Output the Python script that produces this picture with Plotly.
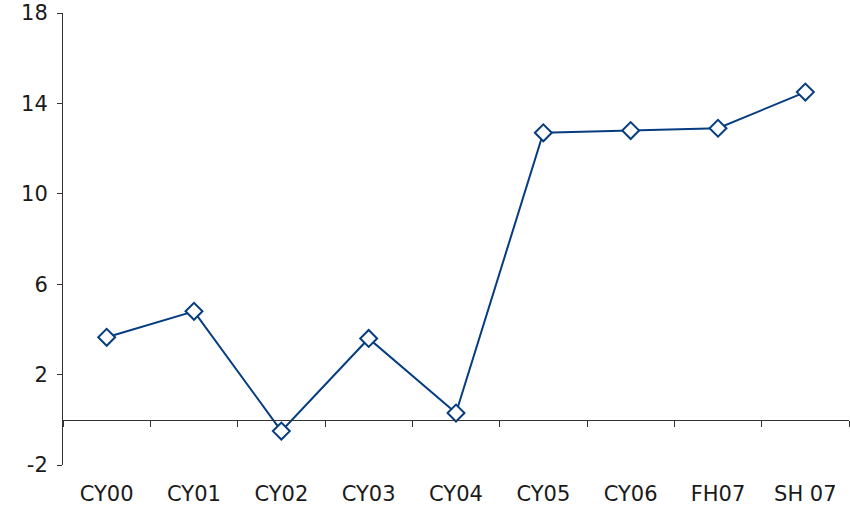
import plotly.graph_objects as go

categories = ["CY00", "CY01", "CY02", "CY03", "CY04", "CY05", "CY06", "FH07", "SH 07"]
values = [3.65, 4.8, -0.5, 3.6, 0.3, 12.7, 12.8, 12.9, 14.5]
y_ticks = [-2, 2, 6, 10, 14, 18]
y_tick_text = ["-2", "2", "6", "10", "14", "18"]

blue = "#053d80"
axis_col = "#333333"
font = dict(family="DejaVu Sans", size=21, color="#1a1a1a")

xs = list(range(len(categories)))
bounds = [i - 0.5 for i in range(len(categories) + 1)]

fig = go.Figure()
fig.add_trace(go.Scatter(
    x=xs, y=values, mode="lines+markers",
    line=dict(color=blue, width=2),
    marker=dict(symbol="diamond", size=13, color="white",
                line=dict(color=blue, width=2)),
    cliponaxis=False, showlegend=False,
))
# invisible trace for the zero-line axis
fig.add_trace(go.Scatter(x=[bounds[0], bounds[-1]], y=[0, 0], xaxis="x2",
                         mode="lines", line=dict(width=0), hoverinfo="skip",
                         showlegend=False))

fig.update_layout(
    width=850, height=508,
    margin=dict(l=63, r=1, t=13, b=43, autoexpand=False),
    paper_bgcolor="white", plot_bgcolor="white",
    font=font,
    xaxis=dict(range=[bounds[0], bounds[-1]], tickvals=xs, ticktext=categories,
               showline=False, showgrid=False, zeroline=False, ticks="",
               ticklabelstandoff=14, tickfont=font, automargin=False),
    xaxis2=dict(range=[bounds[0], bounds[-1]], overlaying="x", anchor="free",
                position=0.1, side="bottom", tickvals=bounds, ticks="outside",
                ticklen=6, tickcolor=axis_col, tickwidth=1,
                showline=True, linecolor=axis_col, linewidth=1,
                showticklabels=False, showgrid=False, zeroline=False,
                automargin=False),
    yaxis=dict(range=[-2, 18], tickvals=y_ticks, ticktext=y_tick_text,
               showline=True, linecolor=axis_col,
               linewidth=1, ticks="outside", ticklen=5, tickcolor=axis_col,
               showgrid=False, zeroline=False, tickfont=font,
               ticklabelstandoff=5, automargin=False,
               ticklabeloverflow="allow"),
)

fig.write_html("out.html",
               config={"displayModeBar": False},
               post_script="document.body.style.margin='0';document.body.style.overflow='hidden';")
